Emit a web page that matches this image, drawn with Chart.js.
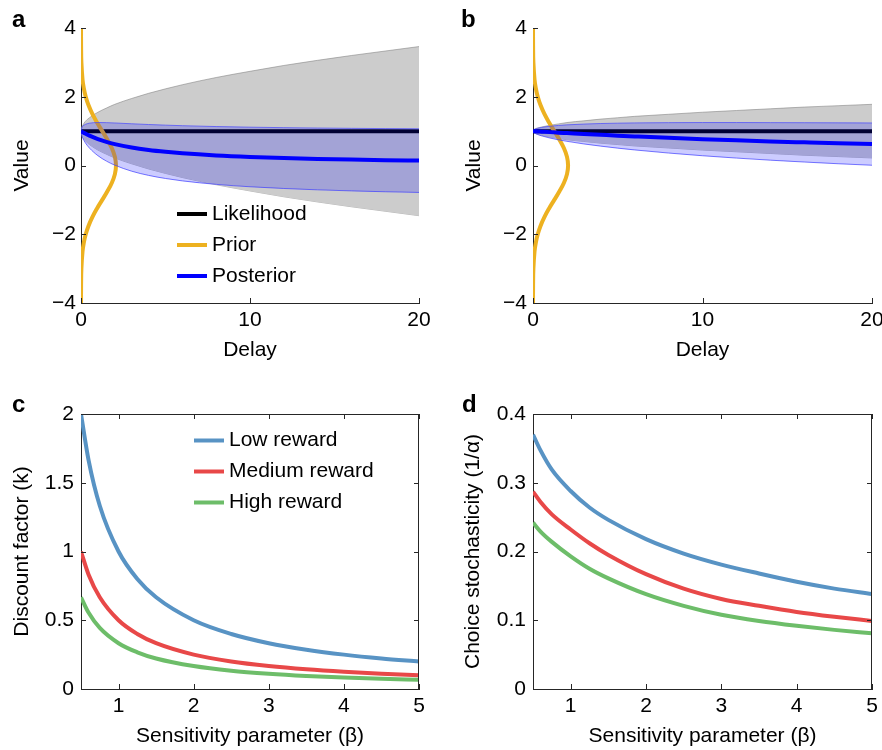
<!DOCTYPE html>
<html>
<head>
<meta charset="utf-8">
<script src="https://cdn.jsdelivr.net/npm/chart.js@4.4.1/dist/chart.umd.min.js"></script>
<style>
  html, body { margin: 0; padding: 0; background: #fff; overflow: hidden; }
  #fig { position: relative; width: 882px; height: 750px; overflow: hidden; }
  #fig canvas { position: absolute; }
  .tag { position: absolute; font: bold 24px "Liberation Sans", Arial, sans-serif; line-height: 24px; color: #000; }
</style>
</head>
<body>
<div id="fig">
  <canvas id="chartA" width="441" height="370" style="left:0;top:0"></canvas>
  <canvas id="chartB" width="460" height="370" style="left:441px;top:0"></canvas>
  <canvas id="chartC" width="441" height="370" style="left:0;top:380px"></canvas>
  <canvas id="chartD" width="460" height="370" style="left:441px;top:380px"></canvas>
  <div class="tag" style="left:12px;top:7px">a</div>
  <div class="tag" style="left:461px;top:7px">b</div>
  <div class="tag" style="left:12px;top:392px">c</div>
  <div class="tag" style="left:462px;top:392px">d</div>
</div>

<script>
/* ---------- value / delay panels (a, b) ---------- */

const delay = [0, 0.05, 0.1, 0.25, 0.5, 1, 1.5, 2, 3, 4, 5, 6, 8, 10, 12, 14, 16, 18, 20];

const likelihoodDelay = [0, 20];
const likelihoodMean = [1, 1];

// panel a: wide likelihood
const likeUpperA = [1, 1.12, 1.17, 1.28, 1.39, 1.55, 1.67, 1.78, 1.95, 2.10, 2.23, 2.35, 2.56, 2.74, 2.91, 3.06, 3.20, 3.33, 3.46];
const likeLowerA = [1, 0.88, 0.83, 0.72, 0.61, 0.45, 0.33, 0.22, 0.05, -0.10, -0.23, -0.35, -0.56, -0.74, -0.91, -1.06, -1.20, -1.33, -1.46];
const postMeanA  = [1, 0.985, 0.971, 0.930, 0.869, 0.768, 0.688, 0.623, 0.524, 0.452, 0.398, 0.355, 0.292, 0.248, 0.216, 0.191, 0.171, 0.155, 0.142];
const postUpperA = [1, 1.107, 1.142, 1.195, 1.231, 1.250, 1.247, 1.237, 1.214, 1.192, 1.174, 1.158, 1.133, 1.115, 1.101, 1.090, 1.081, 1.074, 1.068];
const postLowerA = [1, 0.863, 0.800, 0.665, 0.507, 0.286, 0.129, 0.009, -0.166, -0.288, -0.378, -0.448, -0.549, -0.619, -0.669, -0.708, -0.739, -0.764, -0.784];

// panel b: narrow likelihood
const likeUpperB = [1, 1.04, 1.06, 1.09, 1.12, 1.17, 1.21, 1.25, 1.30, 1.35, 1.39, 1.43, 1.49, 1.55, 1.60, 1.65, 1.70, 1.74, 1.78];
const likeLowerB = [1, 0.96, 0.94, 0.91, 0.88, 0.83, 0.79, 0.75, 0.70, 0.65, 0.61, 0.57, 0.51, 0.45, 0.40, 0.35, 0.30, 0.26, 0.22];
const postMeanB  = [1, 0.998, 0.997, 0.992, 0.985, 0.971, 0.956, 0.943, 0.916, 0.892, 0.868, 0.846, 0.804, 0.767, 0.733, 0.701, 0.673, 0.646, 0.622];
const postUpperB = [1, 1.037, 1.052, 1.079, 1.107, 1.143, 1.165, 1.182, 1.205, 1.221, 1.231, 1.239, 1.246, 1.250, 1.250, 1.247, 1.245, 1.241, 1.237];
const postLowerB = [1, 0.959, 0.942, 0.905, 0.863, 0.799, 0.747, 0.704, 0.627, 0.563, 0.505, 0.453, 0.362, 0.284, 0.216, 0.155, 0.101, 0.051, 0.007];

// prior density, drawn sideways along the value axis
const priorValue   = [4, 3.5, 3, 2.5, 2.25, 2, 1.75, 1.5, 1.25, 1, 0.75, 0.5, 0.25, 0, -0.25, -0.5, -0.75, -1, -1.25, -1.5, -1.75, -2, -2.25, -2.5, -3, -3.5, -4];
const priorDensity = [0.001, 0.005, 0.023, 0.091, 0.165, 0.280, 0.448, 0.672, 0.948, 1.256, 1.562, 1.827, 2.006, 2.07, 2.006, 1.827, 1.562, 1.256, 0.948, 0.672, 0.448, 0.280, 0.165, 0.091, 0.023, 0.005, 0.001];

const delayTicks = [0, 10, 20];
const valueTicks = [-4, -2, 0, 2, 4];

/* ---------- sensitivity panels (c, d) ---------- */

const beta = [0.5, 0.6, 0.75, 1, 1.25, 1.5, 2, 2.5, 3, 3.5, 4, 4.5, 5];
const rewardLabels = ['Low reward', 'Medium reward', 'High reward'];

const discountLow  = [2, 1.667, 1.333, 1, 0.8, 0.667, 0.5, 0.4, 0.333, 0.286, 0.25, 0.222, 0.2];
const discountMed  = [1, 0.833, 0.667, 0.5, 0.4, 0.333, 0.25, 0.2, 0.167, 0.143, 0.125, 0.111, 0.1];
const discountHigh = [0.667, 0.556, 0.444, 0.333, 0.267, 0.222, 0.167, 0.133, 0.111, 0.095, 0.083, 0.074, 0.067];

const stochLow  = [0.370, 0.347, 0.319, 0.288, 0.264, 0.246, 0.218, 0.197, 0.181, 0.168, 0.156, 0.146, 0.138];
const stochMed  = [0.287, 0.272, 0.254, 0.232, 0.212, 0.195, 0.167, 0.146, 0.131, 0.121, 0.112, 0.105, 0.099];
const stochHigh = [0.242, 0.229, 0.214, 0.193, 0.175, 0.161, 0.138, 0.121, 0.108, 0.099, 0.092, 0.086, 0.081];

const betaTicks = [1, 2, 3, 4, 5];
const discountTicks = [0, 0.5, 1, 1.5, 2];
const stochTicks = [0, 0.1, 0.2, 0.3, 0.4];

/* ---------- helpers ---------- */

const FONT = '"Liberation Sans", Arial, sans-serif';
const AXIS = '#262626';
const COLORS = {
  likelihood: '#000000',
  prior: '#EDB120',
  posterior: '#0000FF',
  low: '#5893c4',
  med: '#e84848',
  high: '#6dbd69'
};

function pts(xs, ys) {
  return xs.map((x, i) => ({ x: x, y: ys[i] }));
}

function minusSign(v) {
  return String(v).replace('-', '\u2212');
}

// inward tick marks, plus the closing box for c and d
const axisMarks = {
  id: 'axisMarks',
  afterDatasetsDraw(chart, args, o) {
    const { ctx, chartArea: a, scales } = chart;
    const len = o.len || 5;
    const px = v => Math.round(v) + 0.5;
    ctx.save();
    ctx.strokeStyle = AXIS;
    ctx.lineWidth = 1;
    ctx.beginPath();
    scales.x.ticks.forEach(t => {
      const x = px(scales.x.getPixelForValue(t.value));
      ctx.moveTo(x, a.bottom); ctx.lineTo(x, a.bottom - len);
      if (o.box) { ctx.moveTo(x, a.top); ctx.lineTo(x, a.top + len); }
    });
    scales.y.ticks.forEach(t => {
      const y = px(scales.y.getPixelForValue(t.value));
      ctx.moveTo(a.left, y); ctx.lineTo(a.left + len, y);
      if (o.box) { ctx.moveTo(a.right, y); ctx.lineTo(a.right - len, y); }
    });
    if (o.box) {
      ctx.moveTo(a.left, px(a.top)); ctx.lineTo(a.right, px(a.top));
      ctx.moveTo(px(a.right - 1), a.top); ctx.lineTo(px(a.right - 1), a.bottom);
    }
    ctx.stroke();
    ctx.restore();
  }
};

// small key drawn inside the plot area
const innerKey = {
  id: 'innerKey',
  afterDraw(chart, args, o) {
    if (!o.items) return;
    const { ctx, chartArea: a } = chart;
    ctx.save();
    ctx.font = '21px ' + FONT;
    ctx.textBaseline = 'middle';
    ctx.fillStyle = '#000';
    o.items.forEach((idx, i) => {
      const ds = chart.data.datasets[idx];
      const x = a.left + o.left;
      const y = a.top + o.top + i * o.step;
      ctx.strokeStyle = ds.borderColor;
      ctx.lineWidth = 4;
      ctx.beginPath();
      ctx.moveTo(x, y);
      ctx.lineTo(x + 30, y);
      ctx.stroke();
      ctx.fillText(ds.label, x + 35, y);
    });
    ctx.restore();
  }
};

function axis(cfg) {
  return {
    type: 'linear',
    min: cfg.min,
    max: cfg.max,
    afterBuildTicks: s => { s.ticks = cfg.ticks.map(v => ({ value: v })); },
    afterFit: s => {
      if (cfg.height) s.height = cfg.height;
      if (cfg.width) s.width = cfg.width;
    },
    grid: { display: false, drawTicks: false },
    border: { display: true, color: AXIS, width: 1 },
    ticks: {
      font: { family: FONT, size: 21 },
      color: '#000',
      padding: cfg.pad,
      autoSkip: false,
      maxRotation: 0,
      callback: v => minusSign(v)
    },
    title: {
      display: true,
      text: cfg.title,
      font: { family: FONT, size: 21 },
      color: '#000',
      padding: cfg.titlePad
    }
  };
}

function baseOptions(padRight, padTop, xAxis, yAxis, plugins) {
  return {
    responsive: false,
    animation: false,
    events: [],
    layout: { padding: { left: 0, right: padRight, top: padTop, bottom: 0 } },
    elements: { point: { radius: 0 }, line: { tension: 0.4 } },
    plugins: Object.assign({ legend: { display: false }, tooltip: { enabled: false } }, plugins),
    scales: { x: xAxis, y: yAxis }
  };
}

function delayChart(id, hi, lo, pm, pu, pl, layout) {
  const smooth = 'monotone';
  const datasets = [
    { label: 'likelihood upper', data: pts(delay, hi), borderColor: 'rgba(130,130,130,0.7)', borderWidth: 0.8,
      backgroundColor: '#cccccc', fill: '+1', cubicInterpolationMode: smooth, order: 6 },
    { label: 'likelihood lower', data: pts(delay, lo), borderColor: 'rgba(130,130,130,0.7)', borderWidth: 0.8,
      cubicInterpolationMode: smooth, order: 7 },
    { label: 'Likelihood', data: pts(likelihoodDelay, likelihoodMean), borderColor: COLORS.likelihood, borderWidth: 4, order: 4 },
    { label: 'Prior', data: pts(priorDensity, priorValue), borderColor: COLORS.prior, borderWidth: 4, order: 3 },
    { label: 'posterior upper', data: pts(delay, pu), borderColor: 'rgba(70,70,255,0.7)', borderWidth: 1,
      backgroundColor: 'rgba(0,0,255,0.2)', fill: '+1', cubicInterpolationMode: smooth, order: 2 },
    { label: 'posterior lower', data: pts(delay, pl), borderColor: 'rgba(70,70,255,0.7)', borderWidth: 1,
      cubicInterpolationMode: smooth, order: 2 },
    { label: 'Posterior', data: pts(delay, pm), borderColor: COLORS.posterior, borderWidth: 4,
      cubicInterpolationMode: smooth, order: 1 }
  ];
  const x = axis({ min: 0, max: 20, ticks: delayTicks, height: 67, pad: 5,
                   title: 'Delay', titlePad: { top: 0, bottom: 7.4 } });
  const y = axis({ min: -4, max: 4, ticks: valueTicks, width: layout.yWidth, pad: layout.yPad,
                   title: 'Value', titlePad: { top: layout.titleTop, bottom: 0 } });
  new Chart(document.getElementById(id), {
    type: 'line',
    data: { datasets: datasets },
    options: baseOptions(layout.right, 28, x, y, {
      axisMarks: { box: false, len: 5 },
      innerKey: layout.key || {}
    }),
    plugins: [axisMarks, innerKey]
  });
}

function betaChart(id, series, yMax, yTicks, yTitle, layout) {
  const colors = [COLORS.low, COLORS.med, COLORS.high];
  const datasets = series.map((s, i) => ({
    label: rewardLabels[i],
    data: pts(beta, s),
    borderColor: colors[i],
    borderWidth: 4,
    cubicInterpolationMode: 'monotone'
  }));
  const x = axis({ min: 0.5, max: 5, ticks: betaTicks, height: 61, pad: 5,
                   title: 'Sensitivity parameter (\u03b2)', titlePad: { top: 0, bottom: 1.4 } });
  const y = axis({ min: 0, max: yMax, ticks: yTicks, width: layout.yWidth, pad: 7,
                   title: yTitle, titlePad: { top: layout.titleTop, bottom: 0 } });
  new Chart(document.getElementById(id), {
    type: 'line',
    data: { datasets: datasets },
    options: baseOptions(layout.right, 34, x, y, {
      axisMarks: { box: true, len: 5 },
      innerKey: layout.key || {}
    }),
    plugins: [axisMarks, innerKey]
  });
}

delayChart('chartA', likeUpperA, likeLowerA, postMeanA, postUpperA, postLowerA,
  { yWidth: 81, yPad: 5, right: 22, titleTop: 9.4, key: { items: [2, 3, 6], left: 96, top: 186, step: 31 } });

delayChart('chartB', likeUpperB, likeLowerB, postMeanB, postUpperB, postLowerB,
  { yWidth: 92, yPad: 6, right: 29, titleTop: 20.7 });

betaChart('chartC', [discountLow, discountMed, discountHigh], 2, discountTicks, 'Discount factor (k)',
  { yWidth: 81, right: 22, titleTop: 9.4, key: { items: [0, 1, 2], left: 113, top: 26.5, step: 31 } });

betaChart('chartD', [stochLow, stochMed, stochHigh], 0.4, stochTicks, 'Choice stochasticity (1/\u03b1)',
  { yWidth: 92, right: 29, titleTop: 19.6 });
</script>
</body>
</html>
